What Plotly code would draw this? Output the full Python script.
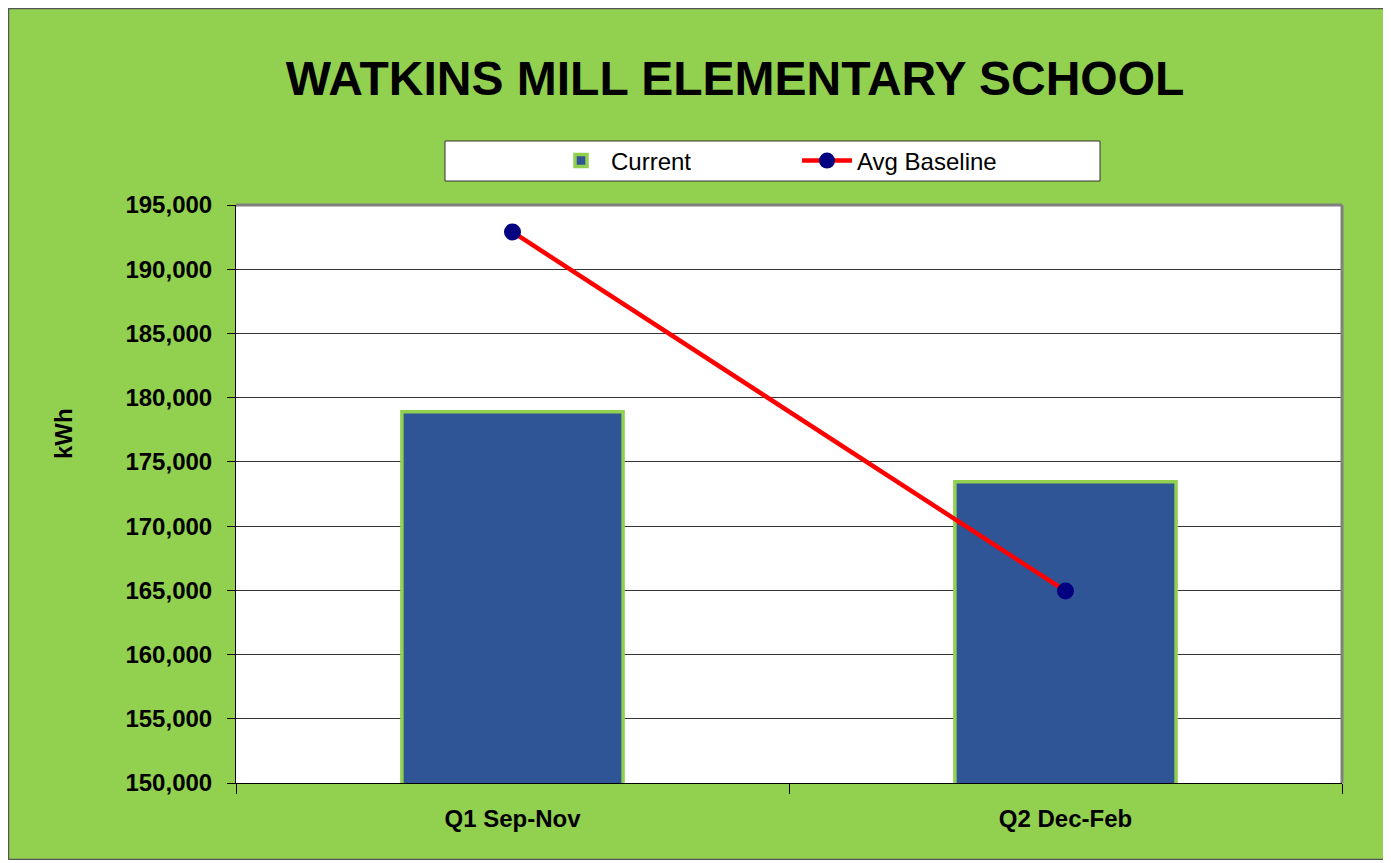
import plotly.graph_objects as go

categories = ["Q1 Sep-Nov", "Q2 Dec-Feb"]
current = [178900, 173450]
avg_baseline = [192900, 164950]
y_ticks = [150000, 155000, 160000, 165000, 170000, 175000, 180000, 185000, 190000, 195000]

OFF = 8  # page body offset
W, H = 1380, 852
L, R, T, B = 228, 46, 197, 77
pw, ph = W - L - R, H - T - B

def sx(p):
    return (p - OFF - L) / pw

def sy(p):
    return (H - B - (p - OFF)) / ph

FONT = "Liberation Sans, Arial"

fig = go.Figure()
fig.add_trace(go.Bar(
    x=categories, y=current, name="Current",
    marker=dict(color="#2F5597", line=dict(color="#92D050", width=3.5)),
    width=0.4,
))
fig.add_trace(go.Scatter(
    x=categories, y=avg_baseline, name="Avg Baseline", mode="lines+markers",
    line=dict(color="#FF0000", width=4.5),
    marker=dict(color="#000080", size=17),
))

fig.update_layout(
    width=W, height=H,
    margin=dict(l=L, r=R, t=T, b=B),
    paper_bgcolor="#92D050",
    plot_bgcolor="#FFFFFF",
    title=dict(text="<b>WATKINS MILL ELEMENTARY SCHOOL</b>", x=sx(735), xref="paper", xanchor="center",
               y=1 - (78 - OFF) / H, yanchor="middle",
               font=dict(family=FONT, size=48, color="#000000")),
    legend=dict(orientation="h", x=sx(551), xanchor="left", y=sy(161), yanchor="middle",
                bgcolor="rgba(0,0,0,0)", borderwidth=0,
                font=dict(family=FONT, size=24, color="#000000"),
                entrywidth=181, itemwidth=50),
    showlegend=True,
    font=dict(family=FONT, color="#000000"),
)
fig.update_xaxes(
    showline=True, linecolor="#000000", linewidth=1,
    ticks="outside", ticklen=10, tickson="boundaries", tickcolor="#000000",
    tickfont=dict(size=24, family=FONT, color="#000000", weight="bold"),
    ticklabelstandoff=14,
    showgrid=False,
)
fig.update_yaxes(
    range=[150000, 195000], tickvals=y_ticks, tickformat=",",
    showline=True, linecolor="#000000", linewidth=1,
    ticks="outside", ticklen=8, tickcolor="#000000",
    gridcolor="#333333", gridwidth=1,
    tickfont=dict(size=24, family=FONT, color="#000000", weight="bold"),
    ticklabelstandoff=10,
)
fig.add_annotation(text="<b>kWh</b>", textangle=-90, xref="paper", yref="paper",
                   x=sx(63), y=sy(434), xanchor="center", yanchor="middle", showarrow=False,
                   font=dict(size=24, family=FONT, color="#000000"))
# legend box
fig.add_shape(type="rect", xref="paper", yref="paper",
              x0=sx(445), x1=sx(1100), y0=sy(181), y1=sy(141),
              line=dict(color="#333333", width=1), fillcolor="#FFFFFF", layer="below")
# plot area top/right border
fig.add_shape(type="line", xref="paper", yref="paper", x0=0, x1=1, y0=1, y1=1,
              line=dict(color="#808080", width=3))
fig.add_shape(type="line", xref="paper", yref="paper", x0=1, x1=1, y0=0, y1=1,
              line=dict(color="#808080", width=3))
# outer chart border
fig.add_shape(type="rect", xref="paper", yref="paper",
              x0=sx(8.5), x1=sx(1387.5), y0=sy(859.5), y1=sy(8.5),
              line=dict(color="#555555", width=1.5), layer="below")

fig.write_html("out.html")
